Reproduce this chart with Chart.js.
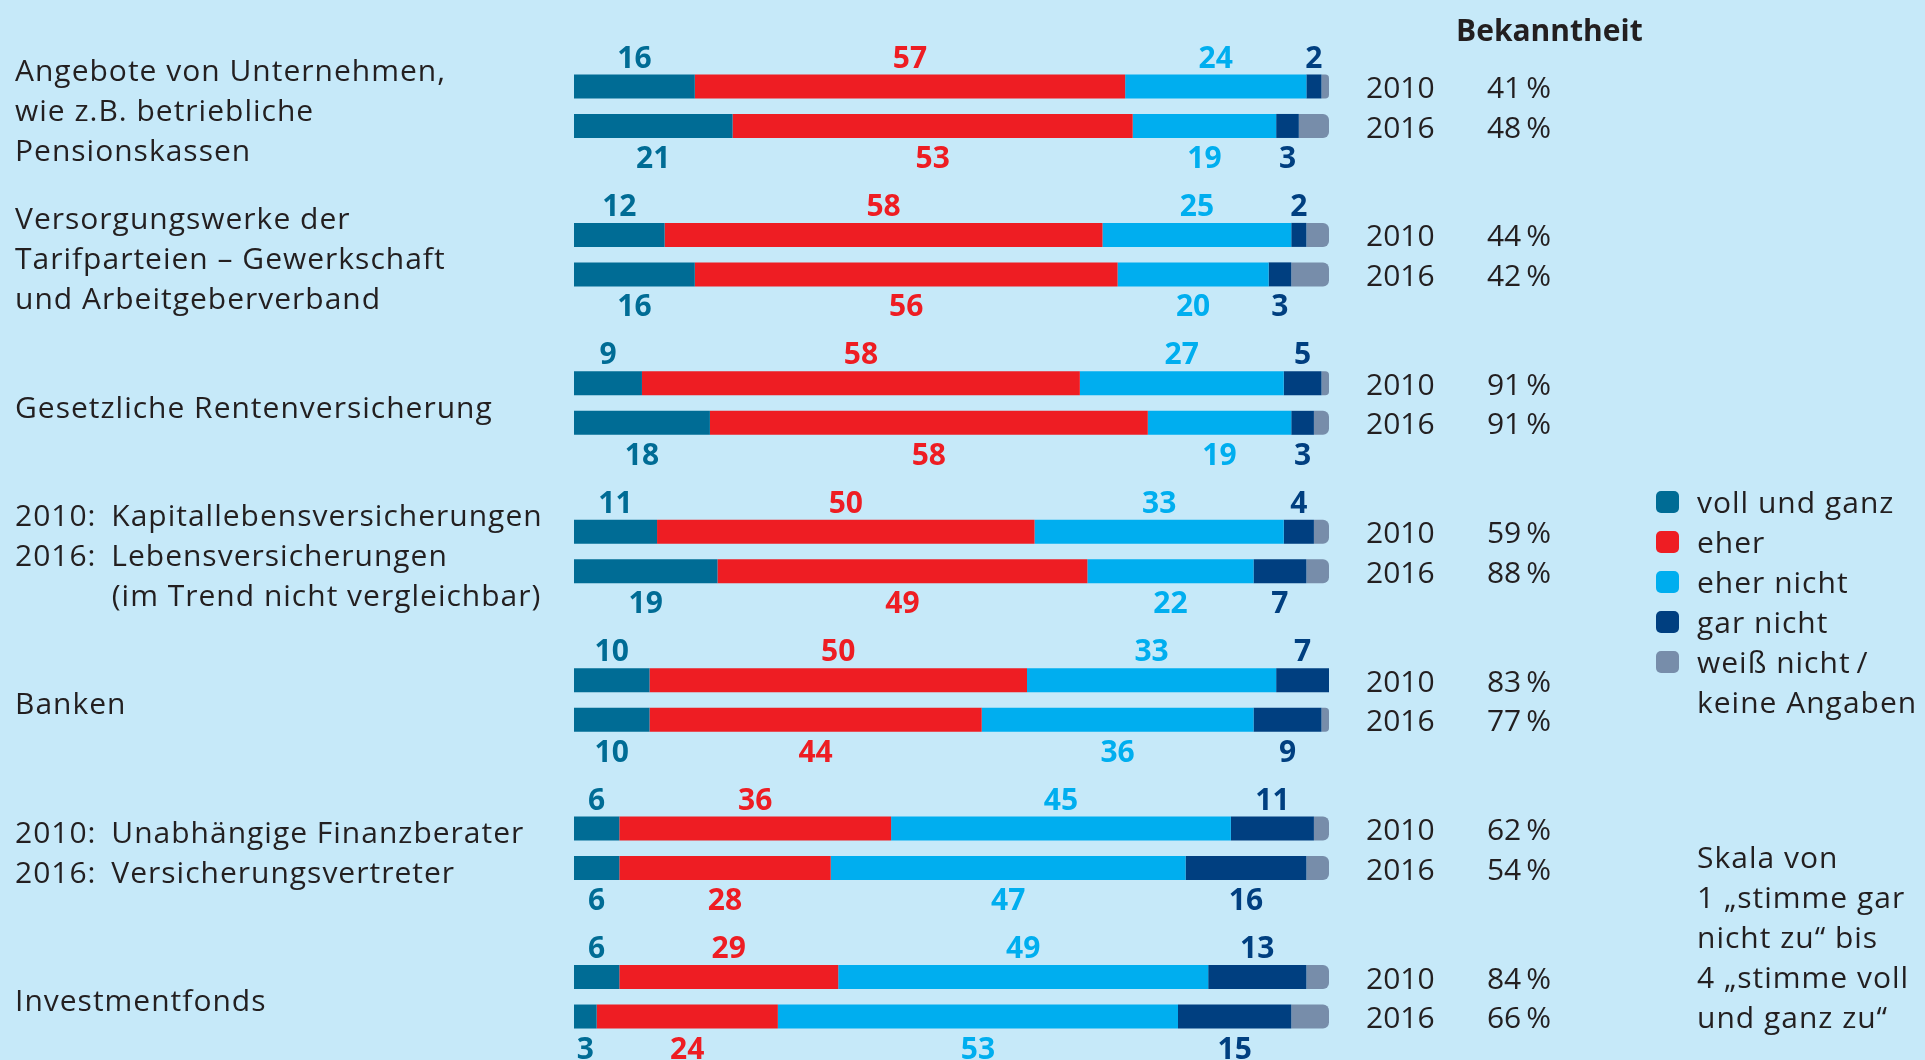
<!DOCTYPE html>
<html lang="de">
<head>
<meta charset="utf-8">
<title>Vertrauen in Anbieter der Altersvorsorge</title>
<script src="https://cdn.jsdelivr.net/npm/chart.js@4.4.1/dist/chart.umd.min.js"></script>
<style>
  html, body { margin: 0; padding: 0; overflow: hidden; background: #c6e9f9; }
  body { width: 1925px; height: 1060px; position: relative; font-family: "Open Sans", sans-serif; color: #231f20; }
  #wrap { position: absolute; left: 0; top: 0; width: 1925px; height: 1100px; }
  .title { position: absolute; left: 1456px; top: 9px; font-size: 30px; font-weight: bold; }
  .legend { position: absolute; left: 1656px; top: 482px; font-size: 30px; line-height: 40px; letter-spacing: 1px; }
  .legend div { position: relative; padding-left: 41px; }
  .legend span { position: absolute; left: 0; top: 9px; width: 23px; height: 22px; border-radius: 5px; }
  .note { position: absolute; left: 1697px; top: 837px; font-size: 30px; line-height: 40px; letter-spacing: 1px; }
</style>
</head>
<body>
<div id="wrap"><canvas id="bar_chart" width="1925" height="1100"></canvas></div>
<div class="title">Bekanntheit</div>
<div class="legend" id="legend"></div>
<div class="note">Skala von<br>1 „stimme gar<br>nicht zu“ bis<br>4 „stimme voll<br>und ganz zu“</div>
<script>
// categories (left labels)
const categories = [
    ['Angebote von Unternehmen,', 'wie z.B. betriebliche', 'Pensionskassen'],
    ['Versorgungswerke der', 'Tarifparteien – Gewerkschaft', 'und Arbeitgeberverband'],
    'Gesetzliche Rentenversicherung',
    ['2010: \u2009Kapitallebensversicherungen', '2016: \u2009Lebensversicherungen', '           (im Trend nicht vergleichbar)'],
    'Banken',
    ['2010: \u2009Unabhängige Finanzberater', '2016: \u2009Versicherungsvertreter'],
    'Investmentfonds'
];
const years = ['2010', '2016'];
const segments = ['voll und ganz', 'eher', 'eher nicht', 'gar nicht', 'weiß nicht / keine Angaben'];
const colors = ['#006c95', '#ee1d23', '#00aeef', '#003f80', '#778daa'];

// values in percent
const voll2010 = [16, 12, 9, 11, 10, 6, 6];
const eher2010 = [57, 58, 58, 50, 50, 36, 29];
const eherNicht2010 = [24, 25, 27, 33, 33, 45, 49];
const garNicht2010 = [2, 2, 5, 4, 7, 11, 13];
const weissNicht2010 = [1, 3, 1, 2, 0, 2, 3];

const voll2016 = [21, 16, 18, 19, 10, 6, 3];
const eher2016 = [53, 56, 58, 49, 44, 28, 24];
const eherNicht2016 = [19, 20, 19, 22, 36, 47, 53];
const garNicht2016 = [3, 3, 3, 7, 9, 16, 15];
const weissNicht2016 = [4, 5, 2, 3, 1, 3, 5];

// Bekanntheit
const bekannt2010 = [41, 44, 91, 59, 83, 62, 84];
const bekannt2016 = [48, 42, 91, 88, 77, 54, 66];

const series = {
    '2010': [voll2010, eher2010, eherNicht2010, garNicht2010, weissNicht2010],
    '2016': [voll2016, eher2016, eherNicht2016, garNicht2016, weissNicht2016]
};

var datasets = [];
years.forEach(function (yr) {
    series[yr].forEach(function (vals, s) {
        datasets.push({
            label: segments[s],
            data: vals,
            stack: yr,
            backgroundColor: colors[s],
            borderWidth: 0,
            borderRadius: s === 4 ? 6 : 0,
            noLabel: s === 4
        });
    });
});

// legend
var legendHtml = '';
segments.forEach(function (s, i) {
    legendHtml += '<div><span style="background:' + colors[i] + '"></span>' + s.replace(' / ', '&thinsp;/<br>') + '</div>';
});
document.getElementById('legend').innerHTML = legendHtml;

const labelPlugin = {
    id: 'valueLabels',
    beforeDraw(chart) {
        // wider tracking for the category text
        chart.ctx.letterSpacing = '1px';
    },
    afterDatasetsDraw(chart) {
        const ctx = chart.ctx;
        const area = chart.chartArea;
        ctx.save();
        ctx.letterSpacing = '0px';
        ctx.font = 'bold 30px "Open Sans"';
        ctx.textAlign = 'center';
        ctx.textBaseline = 'middle';
        chart.data.datasets.forEach(function (ds, d) {
            if (ds.noLabel) return;
            const meta = chart.getDatasetMeta(d);
            meta.data.forEach(function (el, i) {
                const v = ds.data[i];
                if (!v) return;
                const x = (el.x + el.base) / 2;
                const y = ds.stack === '2010' ? el.y - 27.5 : el.y + 33.5;
                ctx.fillStyle = ds.backgroundColor;
                ctx.fillText(v, x, y);
            });
        });
        // years and Bekanntheit values
        ctx.font = '30px "Open Sans"';
        ctx.fillStyle = '#231f20';
        const m10 = chart.getDatasetMeta(0);
        const m16 = chart.getDatasetMeta(5);
        categories.forEach(function (c, i) {
            ctx.textAlign = 'left';
            ctx.fillText(years[0], area.right + 37, m10.data[i].y + 3);
            ctx.fillText(years[1], area.right + 37, m16.data[i].y + 3);
            ctx.textAlign = 'right';
            ctx.fillText(bekannt2010[i] + '\u2009%', area.right + 222, m10.data[i].y + 3);
            ctx.fillText(bekannt2016[i] + '\u2009%', area.right + 222, m16.data[i].y + 3);
        });
        ctx.restore();
    }
};

var ctx = document.getElementById('bar_chart').getContext('2d');
var myChart = new Chart(ctx, {
    type: 'bar',
    data: {
        labels: categories,
        datasets: datasets
    },
    options: {
        indexAxis: 'y',
        responsive: false,
        animation: false,
        devicePixelRatio: 1,
        categoryPercentage: 0.532,
        barPercentage: 0.608,
        layout: {
            padding: { left: 15, right: 596, top: 32, bottom: 29 }
        },
        scales: {
            x: {
                stacked: true,
                min: 0,
                max: 100,
                display: false
            },
            y: {
                stacked: true,
                grid: { display: false },
                border: { display: false },
                ticks: {
                    crossAlign: 'far',
                    padding: 0,
                    labelOffset: 6,
                    color: '#231f20',
                    font: { family: '"Open Sans"', size: 30, lineHeight: '40px' }
                },
                afterFit: function (scale) {
                    scale.width = 559;
                    scale.paddingTop = 0;
                    scale.paddingBottom = 0;
                }
            }
        },
        plugins: {
            legend: { display: false },
            tooltip: { enabled: false },
            title: { display: false }
        }
    },
    plugins: [labelPlugin]
});
</script>
</body>
</html>
